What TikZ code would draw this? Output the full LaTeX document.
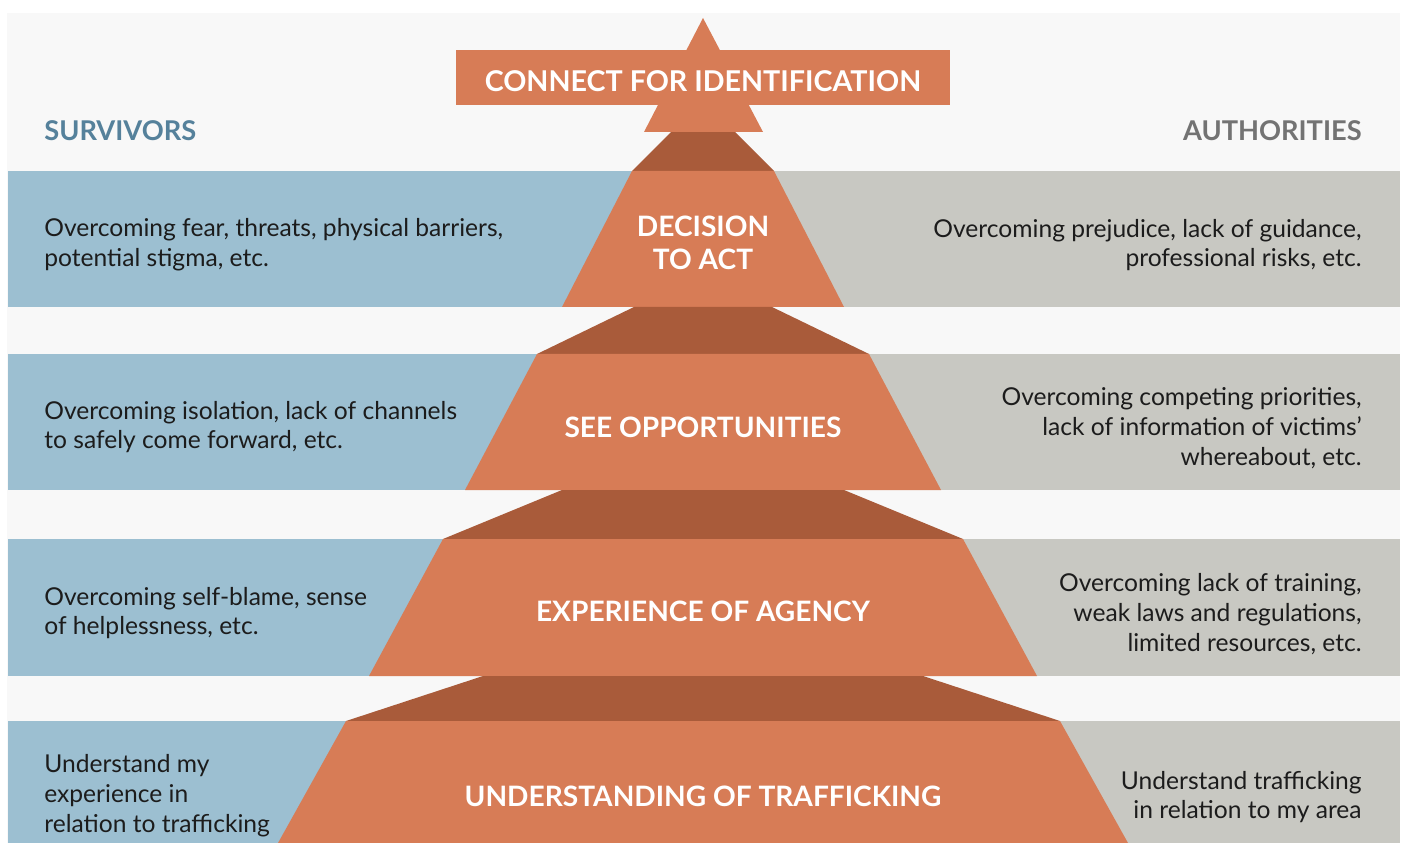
\documentclass[tikz,border=0pt]{standalone}
\usepackage{fontspec}
\setmainfont{Lato}
\usetikzlibrary{calc}

\definecolor{survblue}{HTML}{9CBFD1}
\definecolor{authgray}{HTML}{C8C8C2}
\definecolor{brick}{HTML}{D77C56}
\definecolor{brickdark}{HTML}{A95B3A}
\definecolor{panel}{HTML}{F8F8F8}
\definecolor{survhead}{HTML}{55819B}
\definecolor{authhead}{HTML}{737373}
\definecolor{ink}{HTML}{1C1C1C}

% one row: blue on the survivors side, grey on the authorities side
\newcommand{\band}[2]{ \fill[survblue] (8,#1) rectangle (703,#2); \fill[authgray] (703,#1) rectangle (1400,#2);}
% symmetric trapezoid about x=703: colour, top half width, bottom half width, top y, bottom y
\newcommand{\tier}[5]{ \fill[#1] (703-#2,#4) -- (703+#2,#4) -- (703+#3,#5) -- (703-#3,#5) -- cycle;}

\tikzset{
  lefttext/.style={anchor=west, align=left, inner sep=0pt, text=ink, font=\fontsize{14}{17}\selectfont},
  righttext/.style={anchor=east, align=right, inner sep=0pt, text=ink, font=\fontsize{14}{17}\selectfont},
  tiertext/.style={align=center, inner sep=0pt, text=white, font=\fontsize{16}{19}\selectfont\bfseries},
  sidehead/.style={inner sep=0pt, font=\fontsize{15.5}{18}\selectfont\bfseries}
}

\begin{document}
\begin{tikzpicture}[x=0.2mm,y=-0.2mm]
        \useasboundingbox (0,0) rectangle (1402,843);
        \fill[white] (0,0) rectangle (1402,843);
        \fill[panel] (7,13) rectangle (1400,843);

        % rows
        \band{171}{307}
        \band{354}{490}
        \band{539}{676}
        \band{721}{843}

        % pyramid, top down
        \tier{brickdark}{32}{71}{132}{171}
        \tier{brick}{71}{141}{171}{307}
        \tier{brickdark}{69}{166}{307}{354}
        \tier{brick}{166}{238}{354}{490}
        \tier{brickdark}{141}{260}{490}{539}
        \tier{brick}{260}{334}{539}{676}
        \tier{brickdark}{220}{357}{676}{721}
        \tier{brick}{357}{425}{721}{843}

        % arrow head and banner
        \fill[brick] (703,18) -- (763,132) -- (644,132) -- cycle;
        \fill[brick] (456,50) rectangle (950,105);
        \node[tiertext, font=\fontsize{16.3}{20}\selectfont\bfseries] (goal) at (703,81) {CONNECT FOR IDENTIFICATION};

        \node[sidehead, text=survhead, anchor=west] (survivors) at (44,131) {SURVIVORS};
        \node[sidehead, text=authhead, anchor=east] (authorities) at (1362,131) {AUTHORITIES};

        % row1
        \node[tiertext] (decision) at (703,243) {DECISION\\TO ACT};
        \node[lefttext] (survA) at (44,245) {Overcoming fear, threats, physical barriers,\\potential stigma, etc.};
        \node[righttext] (authA) at (1362,245) {Overcoming prejudice, lack of guidance,\\professional risks, etc.};

        % row2
        \node[tiertext] (opportunities) at (703,427) {SEE OPPORTUNITIES};
        \node[lefttext] (survB) at (44,427) {Overcoming isolation, lack of channels\\to safely come forward, etc.};
        \node[righttext] (authB) at (1362,428) {Overcoming competing priorities,\\lack of information of victims'\\whereabout, etc.};

        % row3
        \node[tiertext] (agency) at (703,611) {EXPERIENCE OF AGENCY};
        \node[lefttext] (survC) at (44,613) {Overcoming self-blame, sense\\of helplessness, etc.};
        \node[righttext] (authC) at (1362,614) {Overcoming lack of training,\\weak laws and regulations,\\limited resources, etc.};

        % row4
        \node[tiertext] (understanding) at (703,796) {UNDERSTANDING OF TRAFFICKING};
        \node[lefttext] (survD) at (44,796) {Understand my\\experience in\\relation to trafficking};
        \node[righttext] (authD) at (1362,797) {Understand trafficking\\in relation to my area};
    \end{tikzpicture}
\end{document}
